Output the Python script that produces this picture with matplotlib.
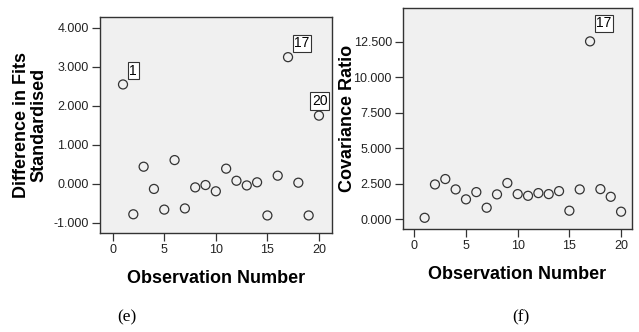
import matplotlib.pyplot as plt
import numpy as np

obs = np.arange(1, 21)
dffits = [2.55, -0.78, 0.44, -0.13, -0.66, 0.61, -0.63, -0.09, -0.03, -0.19,
          0.39, 0.08, -0.04, 0.04, -0.81, 0.21, 3.25, 0.03, -0.81, 1.75]
covratio = [0.09, 2.44, 2.82, 2.09, 1.39, 1.90, 0.80, 1.74, 2.54, 1.76,
            1.64, 1.83, 1.76, 1.97, 0.59, 2.09, 12.52, 2.11, 1.57, 0.52]
xticks = [0, 5, 10, 15, 20]
dffits_ticks = [-1, 0, 1, 2, 3, 4]
covratio_ticks = [0, 2.5, 5, 7.5, 10, 12.5]

plt.rcParams['font.family'] = ['Liberation Sans', 'DejaVu Sans']

fig = plt.figure(figsize=(6.39, 3.32), dpi=100)
ax1 = fig.add_axes([0.1565, 0.2982, 0.363, 0.6506])
ax2 = fig.add_axes([0.6307, 0.3102, 0.3584, 0.6657])

def style(ax, y, yticks, ylim, xlim, ylabel, label_x):
    ax.set_facecolor('#f0f0f0')
    ax.scatter(obs, y, s=42, facecolors='none', edgecolors='#333333', linewidths=0.9, zorder=3)
    ax.set_xlim(*xlim)
    ax.set_ylim(*ylim)
    ax.set_xticks(xticks)
    ax.set_yticks(yticks)
    ax.set_yticklabels(['%.3f' % v for v in yticks])
    ax.tick_params(labelsize=9, length=5.5, width=0.9, pad=2.5, color='#333333', labelcolor='#222222')
    for s in ax.spines.values():
        s.set_color('#333333')
        s.set_linewidth(1.0)
    ax.set_xlabel('Observation Number', fontsize=13, fontweight='bold', labelpad=10)
    ax.set_ylabel(ylabel, fontsize=13, fontweight='bold', linespacing=1.0)
    ax.yaxis.set_label_coords(label_x, 0.5)

style(ax1, dffits, dffits_ticks, (-1.26, 4.28), (-1.23, 21.26),
      'Difference in Fits\nStandardised', -0.228)
style(ax2, covratio, covratio_ticks, (-0.70, 14.87), (-1.09, 21.06),
      'Covariance Ratio', -0.205)

box = dict(boxstyle='square,pad=0.12', fc='white', ec='#333333', lw=0.8)
def tag(ax, i, y, dx, dy, ha='left'):
    ax.annotate(str(i), (i, y), xytext=(dx, dy), textcoords='offset points',
                fontsize=10, family=['Liberation Sans Narrow', 'Liberation Sans'],
                bbox=box, ha=ha, va='bottom', zorder=4)

tag(ax1, 1, dffits[0], 4.5, 5)
tag(ax1, 17, dffits[16], 4.5, 5)
tag(ax1, 20, dffits[19], 0.5, 5.5, ha='center')
tag(ax2, 17, covratio[16], 4.5, 8)

fig.text(0.199, 0.045, '(e)', fontsize=12.5, family='Liberation Serif', ha='center', va='center')
fig.text(0.815, 0.045, '(f)', fontsize=12.5, family='Liberation Serif', ha='center', va='center')

fig.savefig('out.png', dpi=100)
